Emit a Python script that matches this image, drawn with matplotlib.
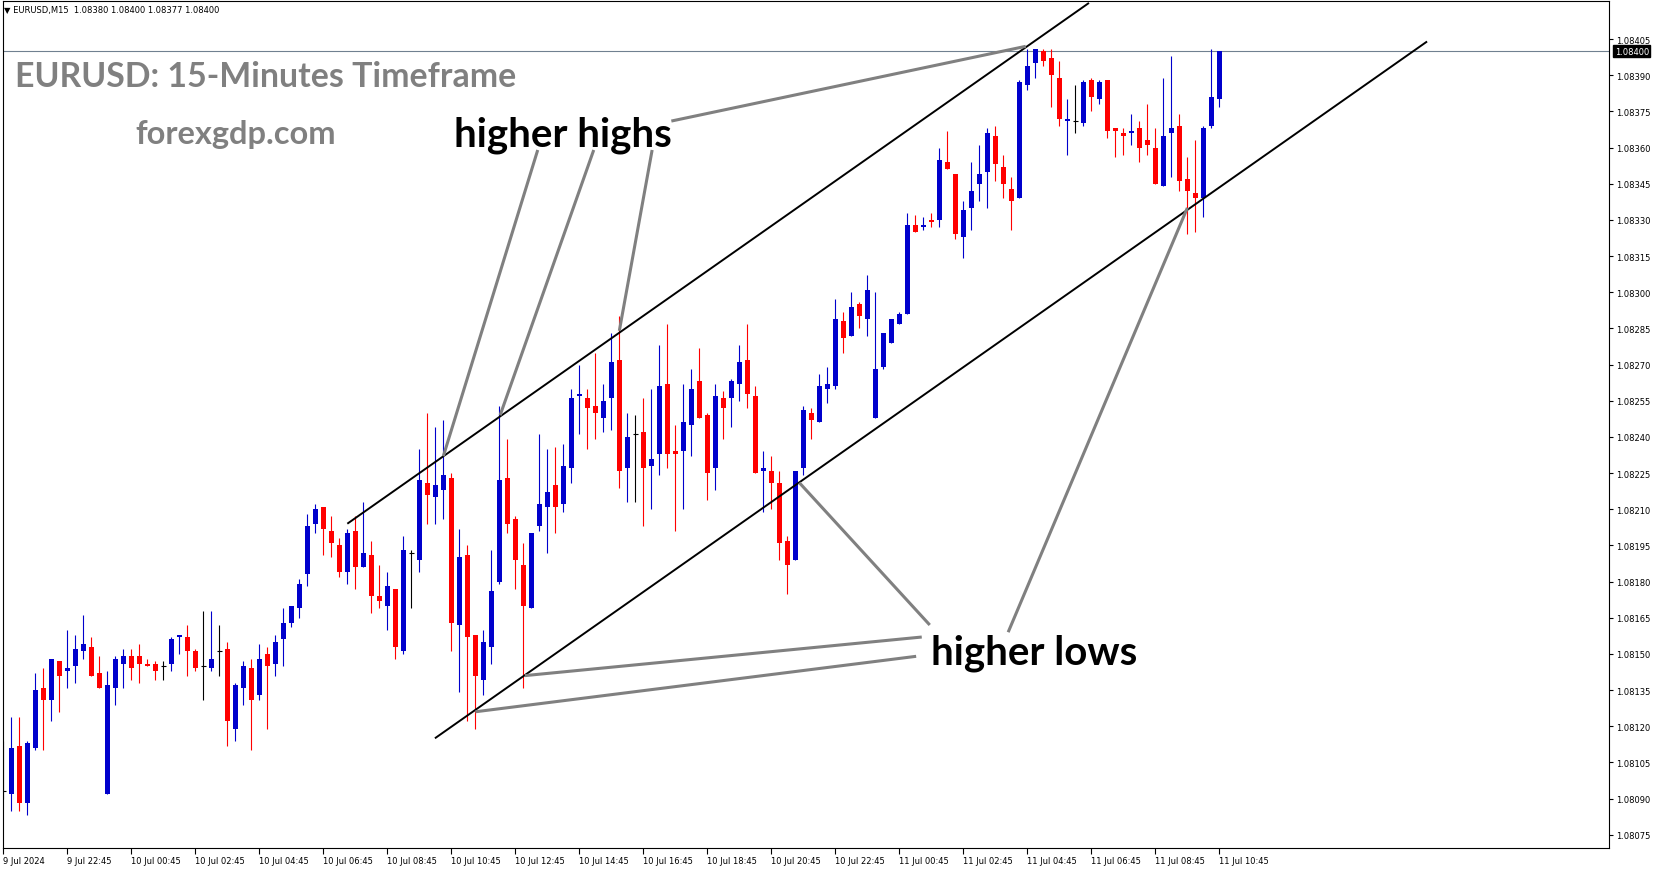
import matplotlib
matplotlib.use("Agg")
import matplotlib.pyplot as plt
import matplotlib.transforms as mtransforms
import numpy as np

W, H, DPI = 1655, 870, 100

# EURUSD M15 bars, 9 Jul 20:45 .. 11 Jul 10:45
# prices kept as points (0.00001) above 1.08000
base = 1.08
opens_pts = [93, 92, 112, 88, 111, 136, 131, 147, 143, 145,
             151, 153, 142, 92, 136, 146, 149, 149, 146, 146,
             145, 146, 157, 157, 151, 145, 144, 151, 152, 119,
             136, 144, 133, 150, 146, 156, 163, 169, 183, 204,
             211, 201, 195, 184, 201, 186, 191, 174, 170, 177,
             151, 192, 189, 221, 215, 218, 223, 162, 191, 158,
             139, 153, 180, 223, 206, 187, 169, 203, 211, 220,
             212, 227, 257, 256, 253, 248, 256, 272, 227, 241,
             242, 228, 233, 262, 234, 234, 245, 263, 249, 227,
             256, 256, 262, 272, 257, 226, 226, 221, 197, 189,
             227, 250, 246, 260, 261, 288, 282, 295, 289, 248,
             269, 279, 287, 291, 328, 327, 330, 330, 354, 349,
             323, 335, 345, 350, 365, 352, 343, 339, 386, 395,
             400, 397, 389, 371, 371, 370, 388, 380, 388, 368,
             366, 366, 368, 363, 360, 344, 366, 369, 347, 341,
             339, 369, 380]
highs_pts = [114, 124, 124, 114, 142, 144, 148, 147, 160, 158,
             166, 157, 149, 143, 149, 152, 152, 154, 148, 147,
             147, 157, 158, 162, 152, 168, 168, 162, 155, 138,
             147, 148, 154, 153, 158, 169, 170, 181, 208, 212,
             211, 207, 198, 202, 207, 213, 197, 187, 184, 177,
             199, 193, 235, 250, 244, 247, 225, 202, 195, 158,
             160, 193, 253, 239, 207, 196, 200, 241, 235, 236,
             237, 260, 270, 260, 275, 262, 283, 290, 250, 249,
             256, 260, 278, 287, 245, 262, 268, 277, 250, 262,
             259, 264, 278, 287, 261, 234, 232, 226, 199, 226,
             253, 252, 266, 269, 297, 292, 300, 296, 307, 300,
             283, 289, 292, 333, 332, 331, 333, 360, 367, 349,
             338, 354, 361, 368, 369, 357, 348, 388, 401, 401,
             401, 401, 396, 380, 386, 388, 389, 388, 388, 368,
             368, 374, 371, 378, 368, 389, 398, 374, 356, 363,
             369, 401, 400]
lows_pts = [90, 85, 85, 83, 110, 110, 122, 126, 136, 138,
            148, 141, 136, 92, 129, 136, 139, 138, 145, 139,
            139, 143, 150, 141, 143, 131, 143, 141, 112, 114,
            129, 110, 131, 119, 141, 145, 161, 165, 178, 200,
            191, 190, 182, 179, 177, 186, 167, 169, 160, 148,
            150, 169, 184, 204, 204, 206, 151, 134, 122, 119,
            133, 146, 179, 200, 177, 136, 169, 201, 192, 200,
            209, 221, 241, 235, 239, 242, 243, 219, 213, 213,
            203, 210, 224, 227, 201, 210, 232, 248, 214, 218,
            239, 244, 255, 252, 225, 209, 210, 189, 175, 189,
            224, 239, 246, 254, 260, 275, 282, 285, 282, 248,
            268, 279, 287, 291, 325, 326, 327, 327, 351, 322,
            314, 326, 338, 335, 346, 339, 326, 339, 384, 389,
            394, 377, 369, 357, 366, 369, 375, 378, 364, 356,
            357, 361, 354, 357, 345, 344, 348, 342, 324, 325,
            331, 368, 377]
closes_pts = [93, 111, 88, 113, 135, 131, 148, 141, 144, 152,
              154, 141, 136, 137, 148, 149, 144, 146, 145, 143,
              145, 156, 158, 151, 144, 145, 148, 151, 122, 137,
              145, 131, 148, 145, 155, 163, 170, 179, 203, 210,
              202, 196, 184, 200, 186, 192, 174, 172, 178, 153,
              193, 192, 222, 216, 220, 224, 163, 190, 157, 141,
              155, 176, 222, 204, 189, 170, 200, 212, 217, 211,
              228, 256, 258, 252, 250, 255, 271, 226, 240, 241,
              227, 231, 261, 233, 233, 246, 260, 248, 225, 257,
              252, 263, 271, 258, 225, 227, 221, 196, 187, 226,
              251, 247, 261, 262, 289, 281, 294, 290, 301, 268,
              283, 289, 291, 328, 325, 328, 329, 355, 351, 324,
              334, 342, 349, 366, 353, 345, 338, 387, 394, 401,
              396, 390, 372, 372, 371, 387, 381, 387, 367, 367,
              365, 367, 360, 361, 345, 365, 368, 346, 342, 339,
              368, 381, 400]

price_ticks_pts = list(range(75, 406, 15))
time_labels = ["9 Jul 2024", "9 Jul 22:45", "10 Jul 00:45", "10 Jul 02:45",
               "10 Jul 04:45", "10 Jul 06:45", "10 Jul 08:45", "10 Jul 10:45",
               "10 Jul 12:45", "10 Jul 14:45", "10 Jul 16:45", "10 Jul 18:45",
               "10 Jul 20:45", "10 Jul 22:45", "11 Jul 00:45", "11 Jul 02:45",
               "11 Jul 04:45", "11 Jul 06:45", "11 Jul 08:45", "11 Jul 10:45"]
bars_per_label = 8
last_price = 1.08400
header = "\u25BC EURUSD,M15  1.08380 1.08400 1.08377 1.08400"

# channel lines, (bar index, price)
upper_channel = [(43.0, 1.08204), (135.7, 1.08420)]
lower_channel = [(53.95, 1.08115), (177.96, 1.08404)]
# pointer lines from the labels to the touches
higher_highs_ptrs = [((66.8, 1.08359), (55.0, 1.08232)),
                     ((73.8, 1.08359), (62.1, 1.08249)),
                     ((81.1, 1.08359), (77.0, 1.08284)),
                     ((83.5, 1.08371), (127.8, 1.08402))]
higher_lows_ptrs = [((114.8, 1.08157), (65.2, 1.08141)),
                    ((114.1, 1.08149), (59.0, 1.08126)),
                    ((115.8, 1.08162), (99.5, 1.08221)),
                    ((125.6, 1.08159), (148.0, 1.08335))]

BLUE = "#0000CC"
RED = "#FF0000"
GRAY = "#808080"

plt.rcParams['font.family'] = ['DejaVu Sans']

o = base + np.array(opens_pts) * 1e-5
h = base + np.array(highs_pts) * 1e-5
l = base + np.array(lows_pts) * 1e-5
c = base + np.array(closes_pts) * 1e-5
idx = np.arange(len(o))
up = np.array(closes_pts) > np.array(opens_pts)
dn = np.array(closes_pts) < np.array(opens_pts)
dj = ~(up | dn)
colors = np.where(up, BLUE, np.where(dn, RED, "black"))

fig = plt.figure(figsize=(W / DPI, H / DPI), dpi=DPI)
fig.patch.set_facecolor("white")
# plot box in pixels: x 2.7..1609, y 1.5..849 from top
ax = fig.add_axes([2.7 / W, 1 - 849 / H, (1609 - 2.7) / W, (849 - 1.5) / H])

# candles
ax.vlines(idx, l, h, colors=colors, linewidth=0.8)
ax.bar(idx, np.abs(c - o), bottom=np.minimum(o, c), width=0.62,
       color=colors, linewidth=0)
ax.hlines(c[dj], idx[dj] - 0.33, idx[dj] + 0.33, colors="black", linewidth=0.8)

# last price line
ax.axhline(last_price, color="#708090", linewidth=0.8, zorder=0)

# channel
for line in (upper_channel, lower_channel):
    (x0, y0), (x1, y1) = line
    ax.plot([x0, x1], [y0, y1], color="black", linewidth=1.4, solid_capstyle="butt")

# pointers
for (x0, y0), (x1, y1) in higher_highs_ptrs + higher_lows_ptrs:
    ax.plot([x0, x1], [y0, y1], color=GRAY, linewidth=2.2, solid_capstyle="butt")

ax.set_xlim(-0.075, 200.7)
ax.set_ylim(1.080695, 1.08421)

for s in ax.spines.values():
    s.set_linewidth(0.8)
    s.set_color("black")

ax.yaxis.tick_right()
yt = [base + v * 1e-5 for v in price_ticks_pts]
ax.set_yticks(yt)
ax.set_yticklabels([f"{v:.5f}" for v in yt])
ax.tick_params(axis="y", direction="out", length=3, width=0.8, pad=2, labelsize=6)

ax.set_xticks(idx[::bars_per_label])
ax.set_xticklabels(time_labels)
ax.tick_params(axis="x", direction="out", length=4, width=0.8, pad=2, labelsize=6)
for t in ax.get_xticklabels():
    t.set_horizontalalignment("left")

# current price box
tr = mtransforms.blended_transform_factory(ax.transAxes, ax.transData)
ax.text(1.0035, last_price, f"{last_price:.5f}", transform=tr, ha="left", va="center",
        fontsize=6, color="white",
        bbox=dict(boxstyle="square,pad=0.15", facecolor="black", edgecolor="black"))

# texts, positions in pixels from top-left
def fx(x):
    return x / W

def fy(y):
    return 1 - y / H

fig.text(fx(4), fy(11), header, fontsize=6, ha="left", va="center", color="black")
fig.text(fx(15), fy(87), "EURUSD: 15-Minutes Timeframe", fontsize=24.4, fontweight="bold",
         family=["Lato", "DejaVu Sans"], color=GRAY, ha="left", va="baseline")
fig.text(fx(135), fy(144), "forexgdp.com", fontsize=23.5, fontweight="bold",
         family=["Lato", "DejaVu Sans"], color=GRAY, ha="left", va="baseline")
fig.text(fx(454), fy(146), "higher highs", fontsize=29, fontweight="bold",
         family=["Lato", "DejaVu Sans"], color="black", ha="left", va="baseline")
fig.text(fx(931), fy(665), "higher lows", fontsize=29, fontweight="bold",
         family=["Lato", "DejaVu Sans"], color="black", ha="left", va="baseline")

fig.savefig("out.png", dpi=DPI, facecolor="white")
